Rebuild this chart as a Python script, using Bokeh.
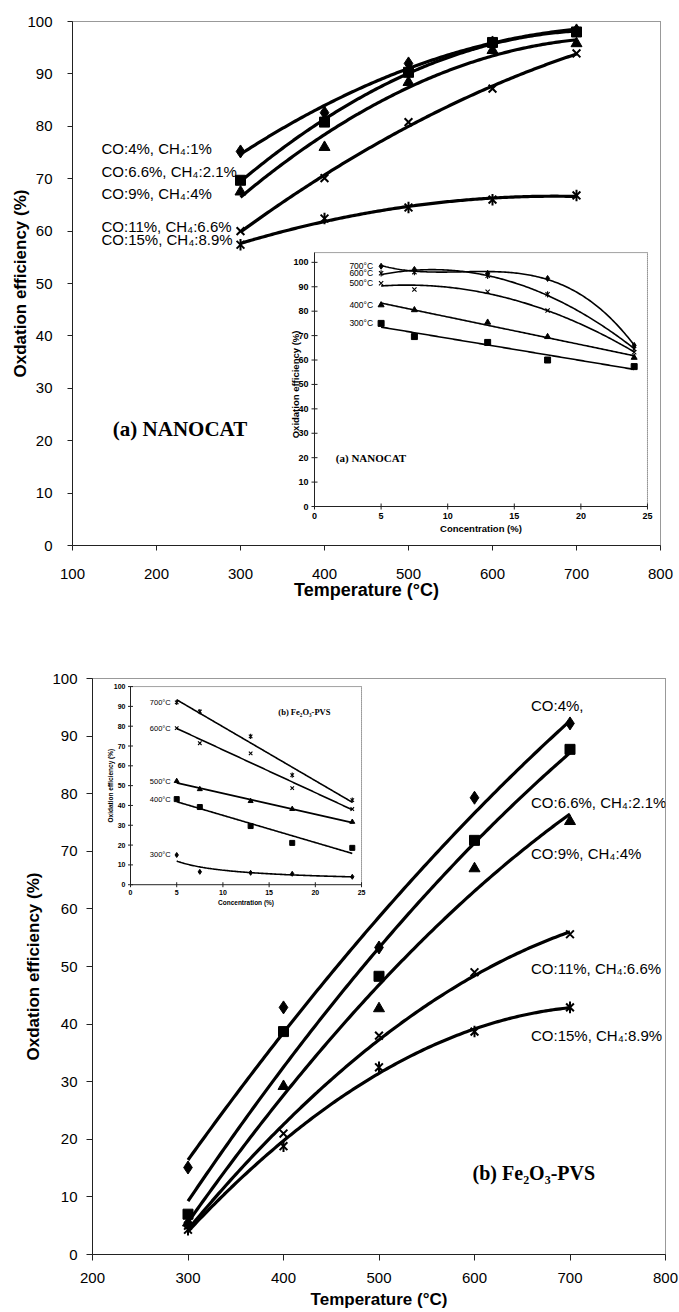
import numpy as np
from bokeh.plotting import figure
from bokeh.models import Range1d, FixedTicker
from bokeh.embed import file_html
from bokeh.resources import INLINE
from bokeh.core.properties import value

# ---------------- data ----------------
temps = [300, 400, 500, 600, 700]                       # reaction temperature (°C)
feed_labels = ["CO:4%, CH₄:1%", "CO:6.6%, CH₄:2.1%", "CO:9%, CH₄:4%",
               "CO:11%, CH₄:6.6%", "CO:15%, CH₄:8.9%"]
feed_labels_b = ["CO:4%,", "CO:6.6%, CH₄:2.1%", "CO:9%, CH₄:4%",
                 "CO:11%, CH₄:6.6%", "CO:15%, CH₄:8.9%"]

# (a) NANOCAT, oxidation efficiency (%) vs temperature
nano_co4 = [75.2, 82.6, 92.0, 96.0, 98.3]
nano_co66 = [69.7, 80.8, 90.3, 96.0, 98.0]
nano_co9 = [67.5, 76.0, 88.4, 94.5, 95.8]
nano_co11 = [60.0, 70.1, 80.8, 87.2, 93.9]
nano_co15 = [57.4, 62.4, 64.5, 66.0, 66.8]

# (b) Fe2O3-PVS, oxidation efficiency (%) vs temperature
fe_co4 = [15.1, 42.9, 53.3, 79.3, 92.2]
fe_co66 = [7.0, 38.7, 48.3, 71.9, 87.7]
fe_co9 = [5.5, 29.2, 42.7, 67.0, 75.2]
fe_co11 = [5.0, 21.0, 38.0, 49.0, 55.6]
fe_co15 = [4.3, 18.8, 32.5, 38.7, 42.9]

# insets: oxidation efficiency (%) vs concentration (%)
conc = [5, 7.5, 13, 17.5, 24]
temp_labels = ["700°C", "600°C", "500°C", "400°C", "300°C"]
nano_t700 = [98.4, 97.1, 95.5, 93.4, 66.0]
nano_t600 = [95.5, 96.0, 94.5, 86.9, 64.5]
nano_t500 = [91.4, 88.9, 88.0, 80.3, 63.2]
nano_t400 = [82.5, 80.5, 75.4, 69.5, 61.0]
nano_t300 = [75.0, 69.6, 67.2, 60.0, 57.3]
fe_t700 = [92.0, 87.4, 74.9, 55.3, 42.7]
fe_t600 = [79.0, 71.4, 66.3, 48.7, 38.2]
fe_t500 = [52.3, 48.2, 42.2, 38.2, 31.7]
fe_t400 = [43.2, 39.2, 29.6, 21.1, 18.6]
fe_t300 = [15.0, 6.5, 6.0, 5.5, 4.0]

ticks_a_x = [100, 200, 300, 400, 500, 600, 700, 800]
ticks_b_x = [200, 300, 400, 500, 600, 700, 800]
ticks_y = [0, 10, 20, 30, 40, 50, 60, 70, 80, 90, 100]
inset_ticks_x = [0, 5, 10, 15, 20, 25]
inset_ticks_y = [0, 10, 20, 30, 40, 50, 60, 70, 80, 90, 100]

SANS = value("Liberation Sans")
SERIF = value("Liberation Serif")


def trend(xs, ys, kind, n=160):
    """Trend line through the measured points: polynomial order or power law."""
    xs = np.asarray(xs, float)
    ys = np.asarray(ys, float)
    xx = np.linspace(xs.min(), xs.max(), n)
    if kind == "power":
        b, a = np.polyfit(np.log(xs), np.log(ys), 1)
        return xx, np.exp(a) * xx ** b
    return xx, np.polyval(np.polyfit(xs, ys, kind), xx)


def markers(g, xs, ys, kind, size, lw=1.6):
    if kind in ("diamond", "square", "triangle", "circle"):
        g.scatter(xs, ys, marker=kind, size=size, fill_color="black", line_color="black")
    elif kind == "x":
        g.scatter(xs, ys, marker="x", size=size, line_color="black", line_width=lw)
    else:  # star: an x crossed by a vertical bar
        g.scatter(xs, ys, marker="x", size=size, line_color="black", line_width=lw)
        g.scatter(xs, ys, marker="dash", angle=np.pi / 2, size=size * 1.05,
                  line_color="black", line_width=lw)


def style_main(p, xticks, tick_px, lab_stand, ytitle_stand, xlab_stand, xtitle_stand,
               xtitle_size):
    p.grid.visible = False
    p.background_fill_color = "white"
    p.border_fill_color = "white"
    p.outline_line_color = "#333333"
    p.outline_line_dash = "1 1"
    p.outline_line_width = 1
    p.xaxis.ticker = FixedTicker(ticks=xticks)
    p.yaxis.ticker = FixedTicker(ticks=ticks_y)
    for ax in (p.xaxis[0], p.yaxis[0]):
        ax.axis_line_color = "#222222"
        ax.axis_line_width = 1
        ax.major_tick_out = tick_px
        ax.major_tick_in = 0
        ax.minor_tick_out = 0
        ax.minor_tick_in = 0
        ax.major_tick_line_color = "#222222"
        ax.major_label_text_font = "Liberation Sans"
        ax.major_label_text_font_size = "15px"
        ax.major_label_text_color = "black"
        ax.axis_label_text_font = "Liberation Sans"
        ax.axis_label_text_font_style = "bold"
        ax.axis_label_text_color = "black"
    p.yaxis.major_label_standoff = lab_stand
    p.yaxis.axis_label_standoff = ytitle_stand
    p.yaxis.axis_label_text_font_size = "17px"
    p.yaxis.axis_label = "Oxdation efficiency (%)"
    p.xaxis.major_label_standoff = xlab_stand
    p.xaxis.axis_label_standoff = xtitle_stand
    p.xaxis.axis_label_text_font_size = xtitle_size
    p.xaxis.axis_label = "Temperature (°C)"


def draw_inset(ins, ymax, tick_fs, title_fs, temp_fs, tick_len, series, fits, kinds,
               msize, caption, cap_xy, cap_fs, title_gap, temp_gap):
    # axes, dotted frame, ticks
    ins.line(x=[inset_ticks_x[0], inset_ticks_x[0], inset_ticks_x[-1]],
             y=[ymax, 0, 0], line_color="#222222", line_width=1)
    ins.line(x=[inset_ticks_x[0], inset_ticks_x[-1], inset_ticks_x[-1]],
             y=[ymax, ymax, 0], line_color="#444444", line_width=1, line_dash="1 1")
    ins.scatter(x=inset_ticks_x, y=[0] * len(inset_ticks_x), marker="dash",
                angle=np.pi / 2, size=tick_len, line_color="#222222")
    ins.scatter(x=[0] * len(inset_ticks_y), y=inset_ticks_y, marker="dash",
                size=tick_len, line_color="#222222")
    ins.text(x=inset_ticks_x, y=[0] * len(inset_ticks_x), text=[str(t) for t in inset_ticks_x],
             y_offset=tick_len, text_align="center", text_baseline="top",
             text_font=SANS, text_font_style="bold", text_font_size=tick_fs, text_color="black")
    ins.text(x=[0] * len(inset_ticks_y), y=inset_ticks_y, text=[str(t) for t in inset_ticks_y],
             x_offset=-tick_len, text_align="right", text_baseline="middle",
             text_font=SANS, text_font_style="bold", text_font_size=tick_fs, text_color="black")
    mid_x = (inset_ticks_x[0] + inset_ticks_x[-1]) / 2
    mid_y = (inset_ticks_y[0] + inset_ticks_y[-1]) / 2
    ins.text(x=[mid_x], y=[0], text=["Concentration (%)"], y_offset=title_gap[0],
             text_align="center", text_baseline="top", text_font=SANS,
             text_font_style="bold", text_font_size=title_fs, text_color="black")
    ins.text(x=[0], y=[mid_y], text=["Oxidation efficiency (%)"], x_offset=-title_gap[1],
             angle=np.pi / 2, text_align="center", text_baseline="bottom", text_font=SANS,
             text_font_style="bold", text_font_size=title_fs, text_color="black")
    for ys, fit, kind in zip(series, fits, kinds):
        xx, yy = trend(conc, ys, fit)
        ins.line(xx, yy, line_color="black", line_width=1.6)
        markers(ins, conc, ys, kind, msize, lw=1.1)
    ins.text(x=[conc[0]] * len(series), y=[s[0] for s in series], text=temp_labels,
             x_offset=-temp_gap, text_align="right", text_baseline="middle",
             text_font=SANS, text_font_size=temp_fs, text_color="black")
    ins.text(x=[cap_xy[0]], y=[cap_xy[1]], text=[caption], text_align="left",
             text_baseline="middle", text_font=SERIF, text_font_style="bold",
             text_font_size=cap_fs, text_color="black")


main_kinds = ["diamond", "square", "triangle", "x", "star"]
main_sizes = [13, 10, 11, 11, 11]

# ---------------- (a) NANOCAT ----------------
p1 = figure(width=679, height=640, x_range=Range1d(100, 800), y_range=Range1d(0, 100),
            output_backend="svg", toolbar_location=None,
            min_border_left=72, min_border_right=19, min_border_top=21, min_border_bottom=95)
style_main(p1, ticks_a_x, 5, 15, -6, 18, -2, "18px")

for ys, kind, sz in zip([nano_co4, nano_co66, nano_co9, nano_co11, nano_co15], main_kinds, main_sizes):
    xx, yy = trend(temps, ys, 2)
    p1.line(xx, yy, line_color="black", line_width=3.2)
    markers(p1, temps, ys, kind, sz, lw=2)

label_y_a = [75.8, 71.4, 67.2, 60.9, 58.4]
p1.text(x=[temps[0]] * 5, y=label_y_a, text=feed_labels, x_offset=-139,
        text_align="left", text_baseline="middle", text_font=SANS,
        text_font_size="15px", text_color="black")
p1.text(x=[148], y=[22.3], text=["(a) NANOCAT"], text_align="left", text_baseline="middle",
        text_font=SERIF, text_font_style="bold", text_font_size="21px", text_color="black")

ins1 = p1.subplot(x_source=Range1d(0, 25), y_source=Range1d(0, 104),
                  x_target=Range1d(388.1, 784.5), y_target=Range1d(7.44, 55.9))
draw_inset(ins1, 104, "9px", "9.5px", "8.5px", 6,
           [nano_t700, nano_t600, nano_t500, nano_t400, nano_t300],
           [3, 2, 2, 1, 1], ["diamond", "star", "x", "triangle", "square"], 6,
           "(a) NANOCAT", (1.6, 20), "11px", (16, 14), 8)

# ---------------- (b) Fe2O3-PVS ----------------
p2 = figure(width=679, height=672, x_range=Range1d(200, 800), y_range=Range1d(0, 100),
            output_backend="svg", toolbar_location=None,
            min_border_left=92, min_border_right=14, min_border_top=38, min_border_bottom=58)
style_main(p2, ticks_b_x, 6, 9, 6, 12, 4, "17px")

for ys, kind, sz in zip([fe_co4, fe_co66, fe_co9, fe_co11, fe_co15], main_kinds, main_sizes):
    xx, yy = trend(temps, ys, 2)
    p2.line(xx, yy, line_color="black", line_width=3.2)
    markers(p2, temps, ys, kind, sz, lw=2)

label_y_b = [95.3, 78.5, 69.6, 49.7, 38.0]
p2.text(x=[temps[-1]] * 5, y=label_y_b, text=feed_labels_b, x_offset=-39,
        text_align="left", text_baseline="middle", text_font=SANS,
        text_font_size="15px", text_color="black")
p2.text(x=[598], y=[14.2], text=["(b) Fe₂O₃-PVS"], text_align="left", text_baseline="middle",
        text_font=SERIF, text_font_style="bold", text_font_size="20px", text_color="black")

ins2 = p2.subplot(x_source=Range1d(0, 25), y_source=Range1d(0, 100),
                  x_target=Range1d(239.8, 481.7), y_target=Range1d(64.2, 98.6))
draw_inset(ins2, 100, "7px", "6.5px", "7.5px", 5,
           [fe_t700, fe_t600, fe_t500, fe_t400, fe_t300],
           [1, 1, 1, 1, "power"], ["star", "x", "triangle", "square", "diamond"], 5,
           "(b) Fe₂O₃-PVS", (16, 87), "8.5px", (14, 17), 6)

# two independent roots stacked on the page, each keeping its own frame geometry
open("out.html", "w").write(file_html([p1, p2], INLINE))
